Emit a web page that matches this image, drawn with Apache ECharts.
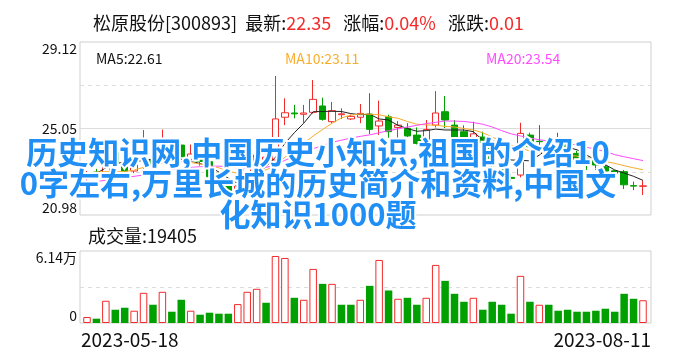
<!DOCTYPE html>
<html><head><meta charset="utf-8">
<script src="https://cdn.jsdelivr.net/npm/echarts@6/dist/echarts.min.js"></script>
<style>html,body{margin:0;padding:0;background:#fff}#c{width:688px;height:360px}</style>
</head><body><div id="c"></div>
<script>
const stockName = '松原股份';
const stockCode = '300893';
const latestPrice = '22.35';
const changePct = '0.04%';
const changeAmt = '0.01';
const overlayText = '历史知识网,中国历史小知识,祖国的介绍10\n0字左右,万里长城的历史简介和资料,中国文\n化知识1000题';

const dates = ['2023-05-18','2023-05-19','2023-05-22','2023-05-23','2023-05-24','2023-05-25','2023-05-26','2023-05-29','2023-05-30','2023-05-31',
'2023-06-01','2023-06-02','2023-06-05','2023-06-06','2023-06-07','2023-06-08','2023-06-09','2023-06-12','2023-06-13','2023-06-14',
'2023-06-15','2023-06-16','2023-06-19','2023-06-20','2023-06-21','2023-06-26','2023-06-27','2023-06-28','2023-06-29','2023-06-30',
'2023-07-03','2023-07-04','2023-07-05','2023-07-06','2023-07-07','2023-07-10','2023-07-11','2023-07-12','2023-07-13','2023-07-14',
'2023-07-17','2023-07-18','2023-07-19','2023-07-20','2023-07-21','2023-07-24','2023-07-25','2023-07-26','2023-07-27','2023-07-28',
'2023-07-31','2023-08-01','2023-08-02','2023-08-03','2023-08-04','2023-08-07','2023-08-08','2023-08-09','2023-08-10','2023-08-11'];

const opens = [22.75,23.0,22.9,23.9,23.3,23.05,23.6,23.6,23.5,24.1,
24.27,23.6,23.8,23.49,22.9,22.39,22.05,22.45,23.2,23.4,
23.57,25.58,25.78,25.72,25.81,26.11,25.37,25.70,25.50,25.58,
25.73,25.17,25.6,25.1,25.06,24.74,24.5,25.21,25.84,25.21,
24.9,24.6,24.65,24.45,23.4,22.75,22.86,24.74,24.45,23.75,
24.55,24.35,23.88,23.65,23.57,23.25,23.06,23.02,22.36,22.33];
const closes = [22.95,22.9,23.6,23.45,23.05,23.35,24.0,23.35,24.3,23.85,
23.72,23.85,23.5,22.78,22.5,21.95,22.35,23.3,23.8,23.7,
25.5,25.79,25.74,25.78,26.42,25.48,25.89,25.74,25.62,25.76,
25.01,25.40,24.9,25.21,24.7,24.35,25.0,25.78,25.45,24.6,
24.51,24.8,24.4,23.3,23.0,22.7,24.82,24.19,24.43,24.35,
24.45,23.96,23.6,23.4,23.33,23.05,22.95,22.4,22.34,22.35];
const lows = [22.6,22.7,22.8,23.3,22.95,22.95,22.9,23.2,23.4,23.7,
23.6,23.3,23.3,22.6,22.4,21.85,21.95,22.35,23.0,23.3,
23.45,25.21,25.53,25.32,25.75,25.42,25.3,25.5,25.45,25.3,
24.79,24.74,24.6,24.5,24.65,24.3,24.3,25.1,25.07,24.55,
24.4,24.43,24.3,23.2,22.85,22.55,22.75,24.1,24.27,23.6,
24.2,23.8,23.5,23.1,23.1,22.9,22.85,22.2,22.15,21.92];
const highs = [23.05,23.15,23.9,24.0,23.5,23.6,24.98,23.8,25.0,24.3,
24.4,24.3,23.9,23.6,23.0,22.5,22.9,24.0,24.2,24.1,
27.52,26.47,26.16,26.16,27.33,26.5,26.3,26.0,25.7,26.2,
26.71,26.36,25.7,25.4,25.3,25.1,25.45,26.81,26.58,25.45,
25.2,25.37,24.9,24.5,23.5,22.9,25.32,24.85,25.21,24.55,
24.85,24.6,24.0,23.75,23.7,23.4,23.1,23.1,22.55,22.6];

const volumes = [5093,3678,18957,11318,13016,10469,25748,15562,26597,9620,
19806,10469,7074,8771,7923,7923,16128,26597,29144,17260,
57155,55458,21504,19806,46121,33388,33388,15562,15562,19806,
31690,53760,27729,20655,21504,15562,21504,49516,35935,24899,
18109,21504,11318,18109,15562,7923,40179,18109,15562,15562,
10469,11318,9620,9620,10469,12167,9620,24899,20655,19405];
const volumeUp = [1,0,1,0,0,1,1,0,1,0, 0,1,0,0,0,0,1,1,1,0,
1,1,0,1,1,0,1,0,0,1, 0,1,0,1,0,0,1,1,0,0,
0,1,0,0,0,0,1,0,1,0, 0,0,0,0,0,0,0,0,0,1];

const ma5 = [22.85,22.94,23.2,23.41,23.45,23.49,23.55,23.6,23.62,23.6,
23.6,23.52,23.4,23.25,23.0,22.71,22.47,22.7,22.95,23.25,
23.7,24.35,24.85,25.3,25.84,25.85,25.86,25.85,25.75,25.7,
25.72,25.5,25.45,25.2,25.05,24.92,24.95,25.02,24.98,24.98,
24.98,24.9,24.5,24.1,23.8,23.57,23.55,23.53,23.8,24.12,
24.15,24.16,24.05,23.8,23.57,23.35,23.1,22.95,22.8,22.61];
const ma10 = [22.95,23.0,23.02,23.02,23.02,23.1,23.22,23.32,23.42,23.47,
23.49,23.45,23.38,23.3,23.2,23.05,22.94,22.98,23.04,23.1,
23.3,23.7,24.05,24.35,24.7,25.0,25.3,25.55,25.68,25.73,
25.72,25.7,25.6,25.53,25.38,25.25,25.22,25.2,25.15,25.12,
25.05,24.98,24.85,24.65,24.45,24.27,24.15,23.98,23.93,23.88,
23.85,23.8,23.75,23.67,23.6,23.5,23.41,23.3,23.2,23.11];
const ma20 = [22.5,22.55,22.62,22.68,22.74,22.8,22.86,22.95,23.04,23.12,
23.18,23.22,23.25,23.27,23.28,23.24,23.2,23.2,23.21,23.22,
23.35,23.55,23.75,23.95,24.1,24.25,24.4,24.5,24.6,24.68,
24.75,24.85,24.95,25.03,25.12,25.2,25.28,25.34,25.4,25.4,
25.38,25.33,25.25,25.12,24.95,24.8,24.7,24.6,24.52,24.46,
24.4,24.35,24.27,24.17,24.07,23.97,23.82,23.72,23.63,23.54];

const priceTicks = ['20.98','25.05','29.12'];
const priceMin = 20.98, priceMax = 29.12;
const volumeMax = 61400;
const volumeTicks = ['0','6.14万'];

const RED = '#f42a2a', GREEN = '#00a000';
const FONT = '"Noto Sans CJK SC","Noto Sans",sans-serif';
const last = a => a[a.length - 1];

const candleData = opens.map((o, i) => [o, closes[i], lows[i], highs[i]]);
const volData = volumes.map((v, i) => ({
  value: v,
  itemStyle: volumeUp[i] ? {color: '#fff', borderColor: RED, borderWidth: 1} : {color: GREEN, borderColor: GREEN, borderWidth: 0}
}));

const chart = echarts.init(document.getElementById('c'));
const hiddenCat = {type: 'category', data: dates, show: false, boundaryGap: true};
chart.setOption({
  animation: false,
  backgroundColor: '#fff',
  textStyle: {fontFamily: FONT},
  title: [
    {left: 88, top: 9, text: `{n|${stockName}[${stockCode}]}  {n|最新:}{v|${latestPrice}}   {n|涨幅:}{v|${changePct}}   {n|涨跌:}{v|${changeAmt}}`,
     textStyle: {fontSize: 18, fontWeight: 'normal', fontFamily: FONT, rich: {
       n: {fontSize: 18, color: '#111', fontFamily: FONT}, v: {fontSize: 18, color: RED, fontFamily: FONT}}}},
    {left: 91, top: 47, text: 'MA5:' + last(ma5).toFixed(2), textStyle: {fontSize: 14, fontWeight: 'normal', color: '#111', fontFamily: FONT}},
    {left: 280, top: 47, text: 'MA10:' + last(ma10).toFixed(2), textStyle: {fontSize: 14, fontWeight: 'normal', color: '#f9ad2c', fontFamily: FONT}},
    {left: 481, top: 47, text: 'MA20:' + last(ma20).toFixed(2), textStyle: {fontSize: 14, fontWeight: 'normal', color: '#ff4cff', fontFamily: FONT}},
    {left: 83, top: 222, text: '成交量:' + last(volumes), textStyle: {fontSize: 18, fontWeight: 'normal', color: '#111', fontFamily: FONT}}
  ],
  grid: [
    {left: 80, top: 42, width: 571, height: 173, show: true, borderColor: '#cfcfcf', borderWidth: 1, backgroundColor: 'transparent'},
    {left: 82.3, top: 42, width: 565.4, height: 173},
    {left: 80, top: 251, width: 571, height: 72, show: true, borderColor: '#cfcfcf', borderWidth: 1, backgroundColor: 'transparent'},
    {left: 82.3, top: 251, width: 565.4, height: 72}
  ],
  xAxis: [
    {type: 'value', gridIndex: 0, min: 0, max: 1, show: false},
    Object.assign({gridIndex: 1}, hiddenCat),
    {type: 'value', gridIndex: 2, min: 0, max: 1, show: false},
    Object.assign({gridIndex: 3}, hiddenCat)
  ],
  yAxis: [
    {type: 'value', gridIndex: 0, position: 'left', min: 0, max: 4, interval: 1, axisLine: {show: false}, axisTick: {show: false}, axisLabel: {show: false},
     splitLine: {show: true, showMinLine: false, showMaxLine: false, lineStyle: {color: '#dcdcdc', type: [4, 4], width: 1}}},
    {type: 'value', gridIndex: 0, position: 'left', offset: 0, min: 0, max: 4, interval: 2, axisLine: {show: false}, axisTick: {show: false},
     splitLine: {show: true, showMinLine: false, showMaxLine: false, lineStyle: {color: '#dcdcdc', type: 'solid', width: 1}},
     axisLabel: {show: true, margin: 3, fontSize: 14, color: '#111', fontFamily: FONT,
       verticalAlignMinLabel: 'bottom', verticalAlignMaxLabel: 'top',
       formatter: v => priceTicks[Math.round(v / 2)] || ''}},
    {type: 'value', gridIndex: 1, min: priceMin, max: priceMax, show: false},
    {type: 'value', gridIndex: 2, position: 'left', min: 0, max: volumeMax, interval: volumeMax / 2, axisLine: {show: false}, axisTick: {show: false},
     splitLine: {show: true, showMinLine: false, showMaxLine: false, lineStyle: {color: '#dcdcdc', type: [4, 4], width: 1}},
     axisLabel: {show: true, margin: 3, fontSize: 14, color: '#111', fontFamily: FONT,
       verticalAlignMinLabel: 'bottom', verticalAlignMaxLabel: 'top',
       formatter: v => v === 0 ? volumeTicks[0] : (v === volumeMax ? volumeTicks[1] : '')}},
    {type: 'value', gridIndex: 3, min: 0, max: volumeMax, show: false}
  ],
  series: [
    {type: 'candlestick', xAxisIndex: 1, yAxisIndex: 2, data: candleData, barWidth: 7,
     itemStyle: {color: '#fff', color0: GREEN, borderColor: RED, borderColor0: GREEN, borderWidth: 1}},
    {type: 'line', xAxisIndex: 1, yAxisIndex: 2, data: ma5, symbol: 'none', lineStyle: {color: '#222', width: 1}},
    {type: 'line', xAxisIndex: 1, yAxisIndex: 2, data: ma10, symbol: 'none', lineStyle: {color: '#f9ad2c', width: 1}},
    {type: 'line', xAxisIndex: 1, yAxisIndex: 2, data: ma20, symbol: 'none', lineStyle: {color: '#ff4cff', width: 1}},
    {type: 'bar', xAxisIndex: 3, yAxisIndex: 4, data: volData, barWidth: 7.5}
  ],
  graphic: [
    {type: 'text', left: 81, top: 330, style: {text: dates[0], font: '19px ' + FONT, fill: '#111'}},
    {type: 'text', right: 37, top: 330, style: {text: last(dates), font: '19px ' + FONT, fill: '#111'}},
    {type: 'text', x: 318, y: 183, z: 100,
     style: {text: overlayText, align: 'center', verticalAlign: 'middle', font: 'bold 31px ' + FONT, lineHeight: 31,
       fill: '#1f8ff5', stroke: '#fff', lineWidth: 4, strokeFirst: true}}
  ]
});
</script></body></html>
